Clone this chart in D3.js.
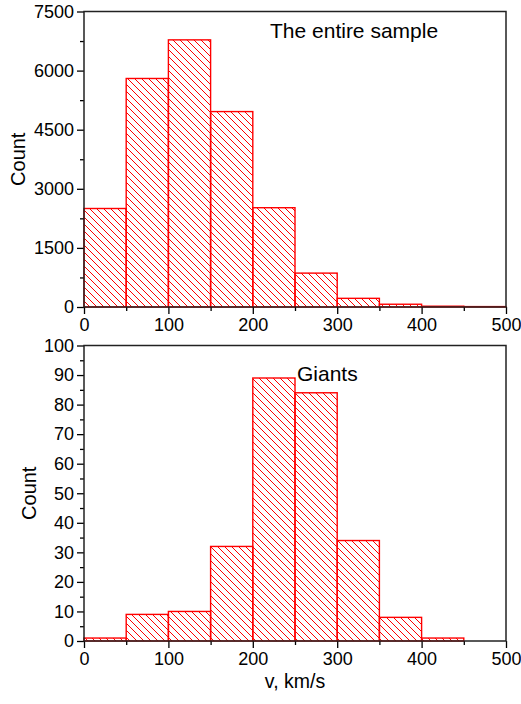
<!DOCTYPE html>
<html>
<head>
<meta charset="utf-8">
<script src="https://cdn.jsdelivr.net/npm/d3@7"></script>
<style>
  body { margin: 0; background: #fff; }
  svg { display: block; font-family: "Liberation Sans", Arial, sans-serif; }
</style>
</head>
<body>
<svg id="chart" width="521" height="704"></svg>
<script>
// bin edges in km/s
const binStarts = [0, 50, 100, 150, 200, 250, 300, 350, 400, 450];
const binWidth = 50;
const entireCounts = [2500, 5800, 6780, 4960, 2520, 860, 220, 70, 20, 10];
const giantCounts = [1, 9, 10, 32, 89, 84, 34, 8, 1, 0];
const xTicks = [0, 100, 200, 300, 400, 500];
const entireTicks = [0, 1500, 3000, 4500, 6000, 7500];
const giantTicks = [0, 10, 20, 30, 40, 50, 60, 70, 80, 90, 100];

const svg = d3.select('#chart');
const red = '#ff0000';

const defs = svg.append('defs');
const pat = defs.append('pattern').attr('id', 'hatch').attr('patternUnits', 'userSpaceOnUse')
  .attr('width', 7).attr('height', 7);
pat.append('path').attr('d', 'M-1,-1 L8,8 M-8,-1 L1,8 M6,-1 L15,8')
  .attr('stroke', red).attr('stroke-width', 1).attr('fill', 'none');

function panel(opts) {
  const { top, bottom, counts, yMax, yTicks, yMinorStep, label, labelX, labelY, countX, showXTitle } = opts;
  const x = d3.scaleLinear([0, 500], [84, 506]);
  const y = d3.scaleLinear([0, yMax], [bottom, top]);
  const g = svg.append('g');

  const bins = binStarts.map((s, i) => ({ x0: s, x1: s + binWidth, v: counts[i] })).filter((d) => d.v > 0);
  g.selectAll('rect.bar').data(bins).join('rect').attr('class', 'bar')
    .attr('x', (d) => x(d.x0)).attr('width', (d) => x(d.x1) - x(d.x0))
    .attr('y', (d) => y(d.v)).attr('height', (d) => y(0) - y(d.v))
    .attr('fill', 'url(#hatch)').attr('stroke', red).attr('stroke-width', 1.4);

  // minor ticks
  const xMinor = d3.range(0, 501, 50).filter((v) => v % 100 !== 0);
  const yMinor = d3.range(0, yMax + 1, yMinorStep).filter((v) => !yTicks.includes(v));
  const xa = d3.axisBottom(x).tickValues(xMinor).tickSize(4).tickFormat('');
  const ya = d3.axisLeft(y).tickValues(yMinor).tickSize(4).tickFormat('');
  g.append('g').attr('transform', `translate(0,${bottom})`).call(xa);
  g.append('g').attr('transform', 'translate(84,0)').call(ya);

  const xAxis = g.append('g').attr('transform', `translate(0,${bottom})`)
    .call(d3.axisBottom(x).tickValues(xTicks).tickSize(7).tickPadding(4).tickFormat(d3.format('d')));
  const yAxis = g.append('g').attr('transform', 'translate(84,0)')
    .call(d3.axisLeft(y).tickValues(yTicks).tickSize(7).tickPadding(3).tickFormat(d3.format('d')));
  [xAxis, yAxis].forEach((a) => {
    a.selectAll('text').attr('font-size', 18).attr('fill', '#000').attr('font-family', '"Liberation Sans", Arial, sans-serif');
  });
  g.selectAll('.domain').remove();
  g.selectAll('.tick line').attr('stroke', '#000').attr('stroke-width', 1.3);

  // frame
  g.append('rect').attr('x', 84).attr('y', top).attr('width', 422).attr('height', bottom - top)
    .attr('fill', 'none').attr('stroke', '#222').attr('stroke-width', 1.5);

  g.append('text').attr('x', labelX).attr('y', labelY).attr('font-size', 21).text(label);
  g.append('text').attr('transform', `translate(${countX},${(top + bottom) / 2}) rotate(-90)`)
    .attr('text-anchor', 'middle').attr('font-size', 20).text('Count');
  if (showXTitle) {
    g.append('text').attr('x', 295).attr('y', bottom + 47).attr('text-anchor', 'middle')
      .attr('font-size', 19.5).text('v, km/s');
  }
}

panel({ top: 11.5, bottom: 307, counts: entireCounts, yMax: 7500, yTicks: entireTicks, yMinorStep: 750,
  label: 'The entire sample', labelX: 270, labelY: 38, countX: 25, showXTitle: false });
panel({ top: 345.5, bottom: 641, counts: giantCounts, yMax: 100, yTicks: giantTicks, yMinorStep: 5,
  label: 'Giants', labelX: 297, labelY: 381, countX: 36, showXTitle: true });
</script>
</body>
</html>
